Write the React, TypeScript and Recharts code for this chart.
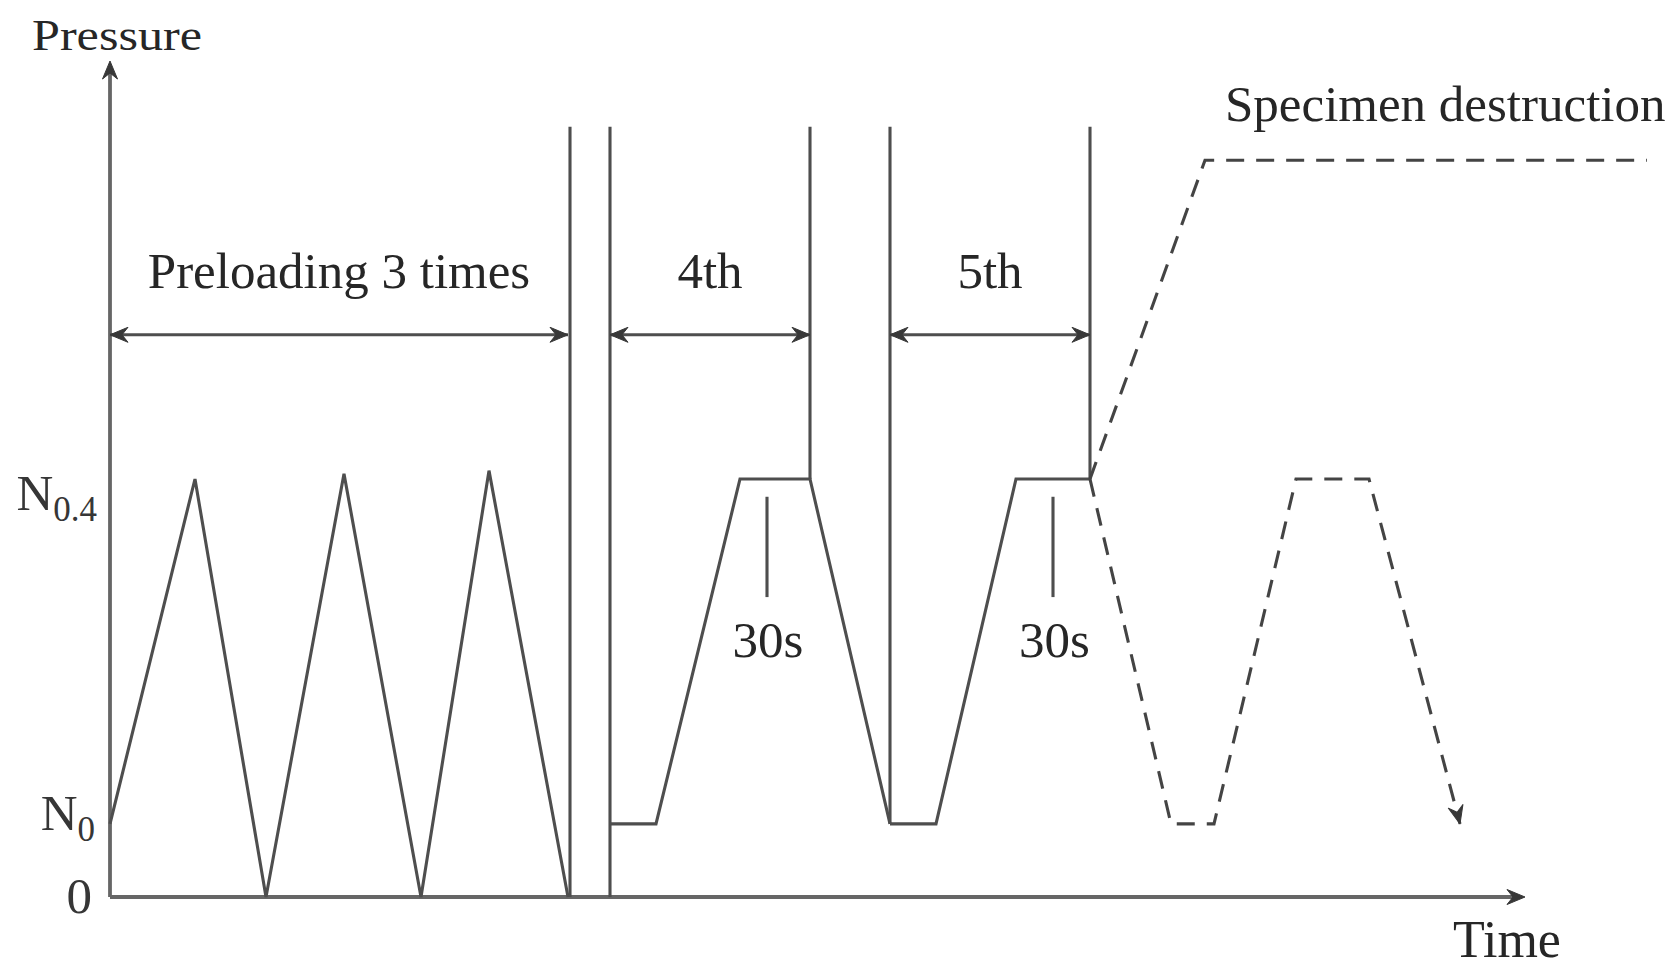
import React from 'react';
import { ComposedChart, Line, Scatter, XAxis, YAxis } from 'recharts';

// pressure levels (relative units) and time in arbitrary units
const N0 = 0.07;
const N04 = 0.4;
const LIMIT_TOP = 0.737;
const FAILURE = 0.705;
const SPAN_LEVEL = 0.538;

const yTicks = [0, N0, N04];

const preloadCycles = [
  { t: 0, p: N0 }, { t: 8.5, p: 0.4 }, { t: 15.6, p: 0 }, { t: 23.4, p: 0.405 },
  { t: 31.1, p: 0 }, { t: 37.9, p: 0.408 }, { t: 45.8, p: 0 },
];
const cycle4 = [
  { t: 50, p: N0 }, { t: 54.6, p: N0 }, { t: 63, p: N04 }, { t: 70, p: N04 }, { t: 78, p: N0 },
];
const cycle5 = [
  { t: 78, p: N0 }, { t: 82.6, p: N0 }, { t: 90.6, p: N04 }, { t: 98, p: N04 },
];
const failurePath = [
  { t: 98, p: N04 }, { t: 109.5, p: FAILURE }, { t: 153.7, p: FAILURE },
];
const continuedPath = [
  { t: 98, p: N04 }, { t: 106.1, p: N0 }, { t: 110.4, p: N0 }, { t: 118.6, p: N04 },
  { t: 125.9, p: N04 }, { t: 135, p: N0 },
];

// vertical boundary lines: [time, bottom, top]
const boundaries = [
  [46, 0, LIMIT_TOP], [50, 0, LIMIT_TOP], [70, N04, LIMIT_TOP],
  [78, N0, LIMIT_TOP], [98, N04, LIMIT_TOP],
];
const holdMarks = [65.7, 94.3];
const holdRange = [0.287, 0.383];

const spans = [
  { from: 0, to: 45.8, label: 'Preloading 3 times' },
  { from: 50, to: 70, label: '4th' },
  { from: 78, to: 98, label: '5th' },
];

const X_END = 141.5;
const Y_END = 0.8;

const LINE = '#4e4e4e';
const TEXT = '#262626';
const FONT = '"Liberation Serif", "Times New Roman", serif';

const angles: Record<string, number> = { right: 0, left: 180, up: -90, fall: 76 };

const arrowHeads = [
  { t: 0, p: Y_END, dir: 'up' },
  { t: X_END, p: 0, dir: 'right' },
  { t: 135, p: N0, dir: 'fall' },
  ...spans.flatMap((s) => [
    { t: s.from, p: SPAN_LEVEL, dir: 'left' },
    { t: s.to, p: SPAN_LEVEL, dir: 'right' },
  ]),
];

const centerLabels = [
  ...spans.map((s) => ({ t: (s.from + s.to) / 2, p: 0.583, text: s.label })),
  { t: 65.8, p: 0.23, text: '30s' },
  { t: 94.45, p: 0.23, text: '30s' },
];
const sideLabels = [{ t: 111.5, p: 0.743, text: 'Specimen destruction' }];

const tickText: Record<string, { main: string; sub?: string; dx: number; dy: number }> = {
  '0': { main: '0', dx: -18, dy: 16 },
  [String(N0)]: { main: 'N', sub: '0', dx: -15, dy: 6 },
  [String(N04)]: { main: 'N', sub: '0.4', dx: -13, dy: 31 },
};

function PressureTick(props: any) {
  const { x, y, payload } = props;
  const lab = tickText[String(payload.value)];
  if (!lab) return null;
  return (
    <text x={x + lab.dx} y={y + lab.dy} textAnchor="end" fontFamily={FONT} fontSize={51} fill="#363636">
      {lab.main}
      {lab.sub && (
        <tspan fontSize={35} dy={11}>{lab.sub}</tspan>
      )}
    </text>
  );
}

function ArrowHead(props: any) {
  const { cx, cy, payload } = props;
  const a = angles[payload.dir];
  return (
    <path
      d="M0,0 L-18,-7.5 L-12,0 L-18,7.5 Z"
      transform={`translate(${cx},${cy}) rotate(${a})`}
      fill="#383838"
      stroke="#383838"
      strokeWidth={1}
      strokeLinejoin="round"
    />
  );
}

function TextMark(anchor: 'middle' | 'start') {
  return (props: any) => (
    <text x={props.cx} y={props.cy} textAnchor={anchor} fontFamily={FONT} fontSize={51} fill={TEXT}>
      {props.payload.text}
    </text>
  );
}

const solid = { stroke: LINE, strokeWidth: 3.1, dot: false, activeDot: false, isAnimationActive: false, type: 'linear' as const, dataKey: 'p' };
const dashed = { ...solid, strokeDasharray: '18 12', stroke: '#444' };

export default function App() {
  return (
    <ComposedChart width={1660} height={960} margin={{ top: 53, right: 8, bottom: 0, left: 0 }}>
      <XAxis
        type="number"
        dataKey="t"
        domain={[0, 155]}
        ticks={[]}
        height={71}
        axisLine={false}
        tick={false}
        tickLine={false}
        label={{
          content: (p: any) => (
            <text x={p.viewBox.x + 1343} y={p.viewBox.y + 60} fontFamily={FONT} fontSize={52} fill={TEXT}>
              Time
            </text>
          ),
        }}
      />
      <YAxis
        type="number"
        dataKey="p"
        domain={[0, Y_END]}
        ticks={yTicks}
        width={102}
        axisLine={false}
        tickLine={false}
        tickSize={0}
        tickMargin={0}
        tick={<PressureTick />}
        label={{
          content: (p: any) => (
            <text
              x={p.viewBox.x + 24}
              y={p.viewBox.y - 11}
              fontFamily={FONT}
              fontSize={45}
              fill={TEXT}
              textLength={170}
              lengthAdjust="spacingAndGlyphs"
            >
              Pressure
            </text>
          ),
        }}
      />

      {/* axes */}
      <Line {...solid} data={[{ t: 0, p: 0 }, { t: 0, p: Y_END - 0.01 }]} strokeWidth={3.8} stroke="#666" />
      <Line {...solid} data={[{ t: 0, p: 0 }, { t: X_END - 1, p: 0 }]} strokeWidth={3.8} stroke="#666" />

      {/* loading history */}
      <Line {...solid} data={preloadCycles} />
      <Line {...solid} data={cycle4} />
      <Line {...solid} data={cycle5} />
      {boundaries.map(([t, lo, hi], i) => (
        <Line key={`b${i}`} {...solid} data={[{ t, p: lo }, { t, p: hi }]} />
      ))}
      {holdMarks.map((t, i) => (
        <Line key={`h${i}`} {...solid} data={[{ t, p: holdRange[1] }, { t, p: holdRange[0] }]} />
      ))}
      <Line {...dashed} data={failurePath} />
      <Line {...dashed} data={continuedPath} />

      {/* dimension arrows */}
      {spans.map((s, i) => (
        <Line key={`s${i}`} {...solid} data={[{ t: s.from, p: SPAN_LEVEL }, { t: s.to, p: SPAN_LEVEL }]} />
      ))}

      <Scatter data={arrowHeads} shape={<ArrowHead />} isAnimationActive={false} />
      <Scatter data={centerLabels} shape={TextMark('middle')} isAnimationActive={false} />
      <Scatter data={sideLabels} shape={TextMark('start')} isAnimationActive={false} />
    </ComposedChart>
  );
}
